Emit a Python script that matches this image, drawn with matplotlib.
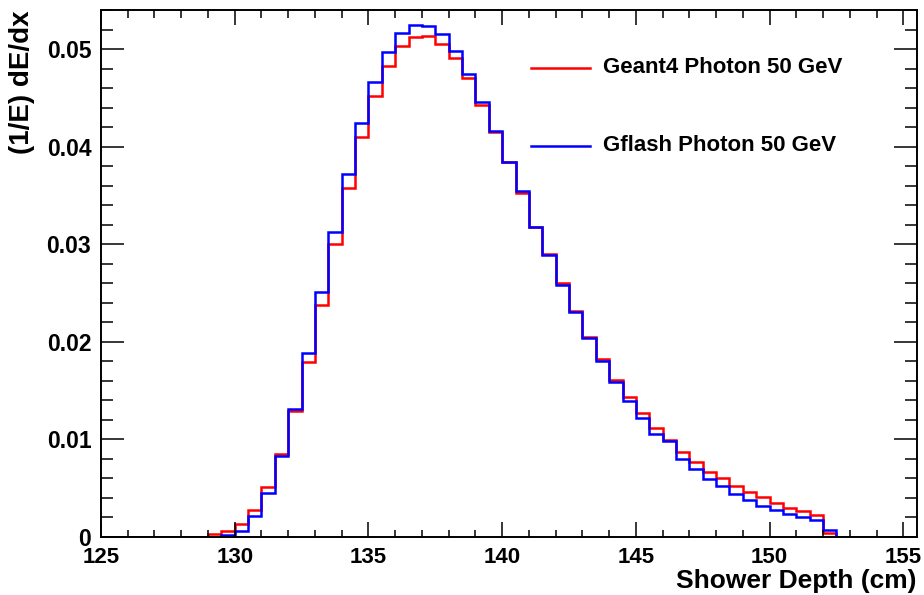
import numpy as np
import matplotlib
matplotlib.use("Agg")
import matplotlib.pyplot as plt
from matplotlib.ticker import MultipleLocator
from matplotlib.lines import Line2D

plt.rcParams['font.family'] = ['Liberation Sans', 'DejaVu Sans']
plt.rcParams['font.weight'] = 'bold'

# histogram binning: 0.5 cm bins from 125 to 155.5 cm
bin_edges = np.arange(125.0, 155.51, 0.5)

# (1/E) dE/dx per bin
geant4 = [0, 0, 0, 0, 0, 0, 0, 0,
          0.00027, 0.0006, 0.00133, 0.00276, 0.00509, 0.0085, 0.0129, 0.0179,
          0.0238, 0.0300, 0.0358, 0.0410, 0.0452, 0.0483, 0.0503, 0.0512,
          0.0513, 0.0505, 0.0491, 0.0470, 0.0443, 0.0415, 0.0384, 0.0352,
          0.0318, 0.0290, 0.0260, 0.0232, 0.0205, 0.0182, 0.0161, 0.0143,
          0.0127, 0.0112, 0.0099, 0.0087, 0.0077, 0.0067, 0.0060, 0.0052,
          0.0046, 0.0041, 0.0035, 0.0030, 0.0027, 0.0023, 0.0004,
          0, 0, 0, 0, 0, 0]
gflash = [0, 0, 0, 0, 0, 0, 0, 0,
          0.00003, 0.0002, 0.00065, 0.00215, 0.00447, 0.0083, 0.0131, 0.0189,
          0.0251, 0.0313, 0.0372, 0.0424, 0.0466, 0.0497, 0.0516, 0.0525,
          0.0524, 0.0515, 0.0498, 0.0474, 0.0446, 0.0416, 0.0384, 0.0355,
          0.0318, 0.0289, 0.0258, 0.0231, 0.0204, 0.0180, 0.0159, 0.0139,
          0.0122, 0.0106, 0.0098, 0.0080, 0.0070, 0.0059, 0.0052, 0.0044,
          0.0038, 0.0032, 0.0028, 0.0024, 0.0020, 0.0017, 0.0007,
          0, 0, 0, 0, 0, 0]

labels = ['Geant4 Photon 50 GeV', 'Gflash Photon 50 GeV']
colors = ['#ff0000', '#0000ff']

fig = plt.figure(figsize=(9.24, 5.95), dpi=100)
ax = fig.add_axes([101/924, 58/595, 815.7/924, 527/595])

ax.stairs(geant4, bin_edges, color=colors[0], lw=1.8)
ax.stairs(gflash, bin_edges, color=colors[1], lw=1.8)

ax.set_xlim(125, 155.5)
ax.set_ylim(0, 0.054)

ax.xaxis.set_major_locator(MultipleLocator(5))
ax.xaxis.set_minor_locator(MultipleLocator(1))
ax.yaxis.set_major_locator(MultipleLocator(0.01))
ax.yaxis.set_minor_locator(MultipleLocator(0.002))
ax.yaxis.set_major_formatter(plt.FuncFormatter(lambda v, p: '0' if abs(v) < 1e-9 else f'{v:.2f}'))

ax.tick_params(which='both', direction='in', top=True, right=True, labelsize=16, width=1.1)
ax.tick_params(axis='x', which='major', length=11, pad=7)
ax.tick_params(axis='x', which='minor', length=5.4)
ax.tick_params(axis='y', which='major', length=16.5, pad=7, labelsize=16.5)
ax.tick_params(axis='y', which='minor', length=8.3)
for lab in ax.get_xticklabels() + ax.get_yticklabels():
    lab.set_fontweight('bold')
for s in ax.spines.values():
    s.set_linewidth(1.4)

ax.set_xlabel('Shower Depth (cm)', fontsize=19, fontweight='bold', loc='right', labelpad=1)
ax.set_ylabel('(1/E) dE/dx', fontsize=20, fontweight='bold', loc='top', labelpad=8)

# legend drawn by hand, ROOT-style
for (ly, lab, c) in [(0.89, labels[0], colors[0]), (0.742, labels[1], colors[1])]:
    ax.add_line(Line2D([0.527, 0.5995], [ly, ly], transform=ax.transAxes, color=c, lw=1.8))
    ax.text(0.6154, ly, lab, transform=ax.transAxes, fontsize=16, fontweight='bold', va='center', ha='left')

fig.savefig('out.png', dpi=100)
